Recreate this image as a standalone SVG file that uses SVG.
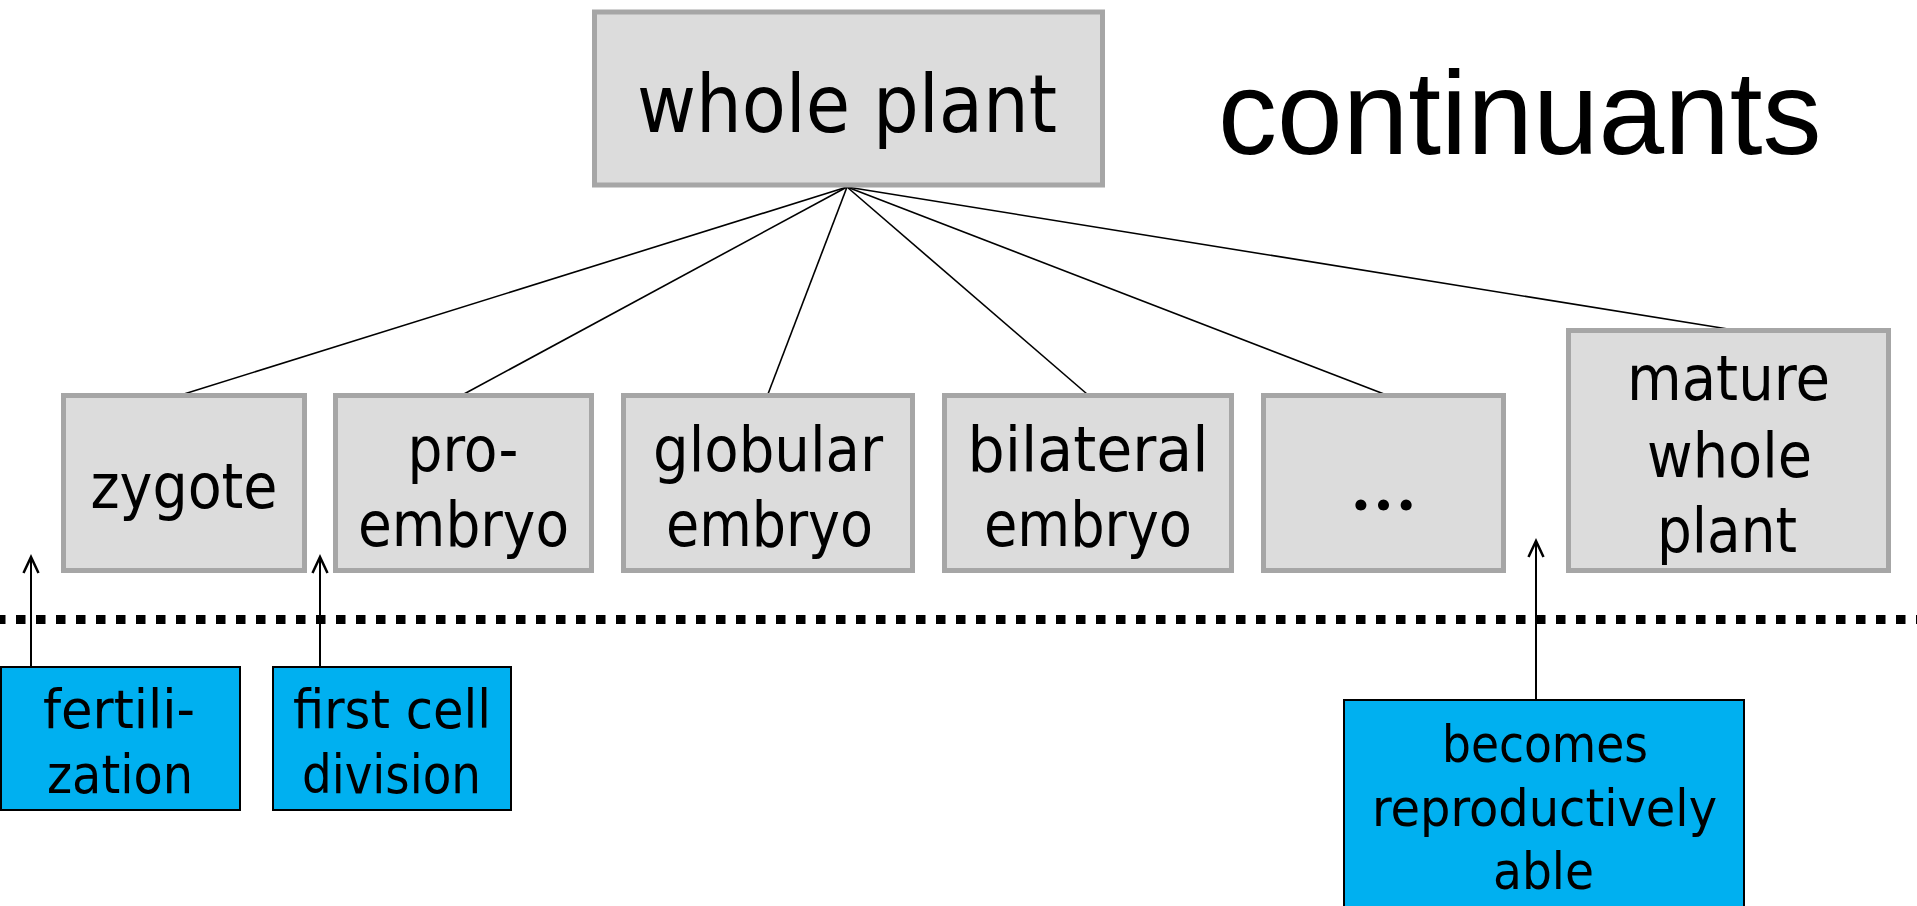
<svg xmlns="http://www.w3.org/2000/svg" width="1917" height="906" viewBox="0 0 1917 906">
  <style>
    .stage { fill: #dcdcdc; stroke: #a6a6a6; stroke-width: 5; }
    .event { fill: #00b0f0; stroke: #000; stroke-width: 2; }
    .lbl { font-family: "DejaVu Sans Condensed", "DejaVu Sans", sans-serif; font-stretch: condensed; fill: #000; text-anchor: middle; }
    .big { font-size: 80px; }
    .mid { font-size: 62px; }
    .sm { font-size: 54px; }
    .xs { font-size: 52px; }
    .dots { font-family: Lato, "Open Sans", sans-serif; font-size: 88px; fill: #000; text-anchor: middle; }
    .edge { fill: none; stroke: #000; stroke-width: 1.6; }
    .trig { fill: none; stroke: #000; stroke-width: 2; marker-end: url(#chev); }
  </style>
  <defs>
    <marker id="chev" viewBox="-20 -10 24 20" refX="0" refY="0" markerWidth="24" markerHeight="20" markerUnits="userSpaceOnUse" orient="auto" overflow="visible">
      <path d="M-16,-7.5 L0,0 L-16,7.5" fill="none" stroke="#000" stroke-width="2.5"/>
    </marker>
  </defs>

  <rect width="1917" height="906" fill="#fff"/>

  <!-- time boundary between continuants and occurrents -->
  <line id="boundary" x1="0" y1="619.5" x2="1917" y2="619.5" stroke="#000" stroke-width="9" stroke-dasharray="9.5 10.5" stroke-dashoffset="4"/>

  <!-- heading -->
  <text id="heading" x="1218" y="154" font-family="'Liberation Sans', Arial, sans-serif" font-size="118" fill="#000">continuants</text>

  <!-- part-of edges from whole plant to its stages, and event triggers -->
  <g id="connectors">
    <line class="edge" x1="847" y1="187" x2="184" y2="394"/>
    <line class="edge" x1="847" y1="187" x2="464" y2="394"/>
    <line class="edge" x1="847" y1="187" x2="768" y2="394"/>
    <line class="edge" x1="847" y1="187" x2="1087" y2="394"/>
    <line class="edge" x1="847" y1="187" x2="1384" y2="394"/>
    <line class="edge" x1="847" y1="187" x2="1728" y2="329"/>
    <line class="trig" x1="31" y1="666" x2="31" y2="557"/>
    <line class="trig" x1="320" y1="666" x2="320" y2="557"/>
    <line class="trig" x1="1536" y1="699" x2="1536" y2="541"/>
  </g>

  <g id="whole-plant">
    <rect class="stage" x="594.5" y="12" width="508" height="173"/>
    <text class="lbl big" x="847" y="132" textLength="420" lengthAdjust="spacingAndGlyphs">whole plant</text>
  </g>

  <g id="zygote">
    <rect class="stage" x="63.5" y="395.5" width="241" height="175"/>
    <text class="lbl mid" x="184" y="508" textLength="187" lengthAdjust="spacingAndGlyphs">zygote</text>
  </g>

  <g id="pro-embryo">
    <rect class="stage" x="335.5" y="395.5" width="256" height="175"/>
    <text class="lbl mid" x="463" y="471" textLength="111" lengthAdjust="spacingAndGlyphs">pro-</text>
    <text class="lbl mid" x="463.5" y="546" textLength="211" lengthAdjust="spacingAndGlyphs">embryo</text>
  </g>

  <g id="globular-embryo">
    <rect class="stage" x="623.5" y="395.5" width="289" height="175"/>
    <text class="lbl mid" x="768" y="471" textLength="230" lengthAdjust="spacingAndGlyphs">globular</text>
    <text class="lbl mid" x="769.5" y="546" textLength="207" lengthAdjust="spacingAndGlyphs">embryo</text>
  </g>

  <g id="bilateral-embryo">
    <rect class="stage" x="944.5" y="395.5" width="287" height="175"/>
    <text class="lbl mid" x="1088" y="471" textLength="241" lengthAdjust="spacingAndGlyphs">bilateral</text>
    <text class="lbl mid" x="1088" y="546" textLength="208" lengthAdjust="spacingAndGlyphs">embryo</text>
  </g>

  <g id="more-stages">
    <rect class="stage" x="1263.5" y="395.5" width="240" height="175"/>
    <text class="dots" x="1383.5" y="510">…</text>
  </g>

  <g id="mature-whole-plant">
    <rect class="stage" x="1568.5" y="330.5" width="320" height="240"/>
    <text class="lbl mid" x="1728.5" y="400" textLength="203" lengthAdjust="spacingAndGlyphs">mature</text>
    <text class="lbl mid" x="1729.5" y="477" textLength="165" lengthAdjust="spacingAndGlyphs">whole</text>
    <text class="lbl mid" x="1727" y="552" textLength="140" lengthAdjust="spacingAndGlyphs">plant</text>
  </g>

  <g id="fertilization">
    <rect class="event" x="1" y="667" width="239" height="143"/>
    <text class="lbl sm" x="119" y="728" textLength="152" lengthAdjust="spacingAndGlyphs">fertili-</text>
    <text class="lbl sm" x="120" y="793" textLength="146" lengthAdjust="spacingAndGlyphs">zation</text>
  </g>

  <g id="first-cell-division">
    <rect class="event" x="273" y="667" width="238" height="143"/>
    <text class="lbl sm" x="392" y="728" textLength="198" lengthAdjust="spacingAndGlyphs">first cell</text>
    <text class="lbl sm" x="391.5" y="793" textLength="179" lengthAdjust="spacingAndGlyphs">division</text>
  </g>

  <g id="becomes-reproductively-able">
    <rect class="event" x="1344" y="700" width="400" height="220"/>
    <text class="lbl xs" x="1545" y="762" textLength="206" lengthAdjust="spacingAndGlyphs">becomes</text>
    <text class="lbl xs" x="1544.5" y="826" textLength="345" lengthAdjust="spacingAndGlyphs">reproductively</text>
    <text class="lbl xs" x="1543.5" y="889" textLength="101" lengthAdjust="spacingAndGlyphs">able</text>
  </g>
</svg>
